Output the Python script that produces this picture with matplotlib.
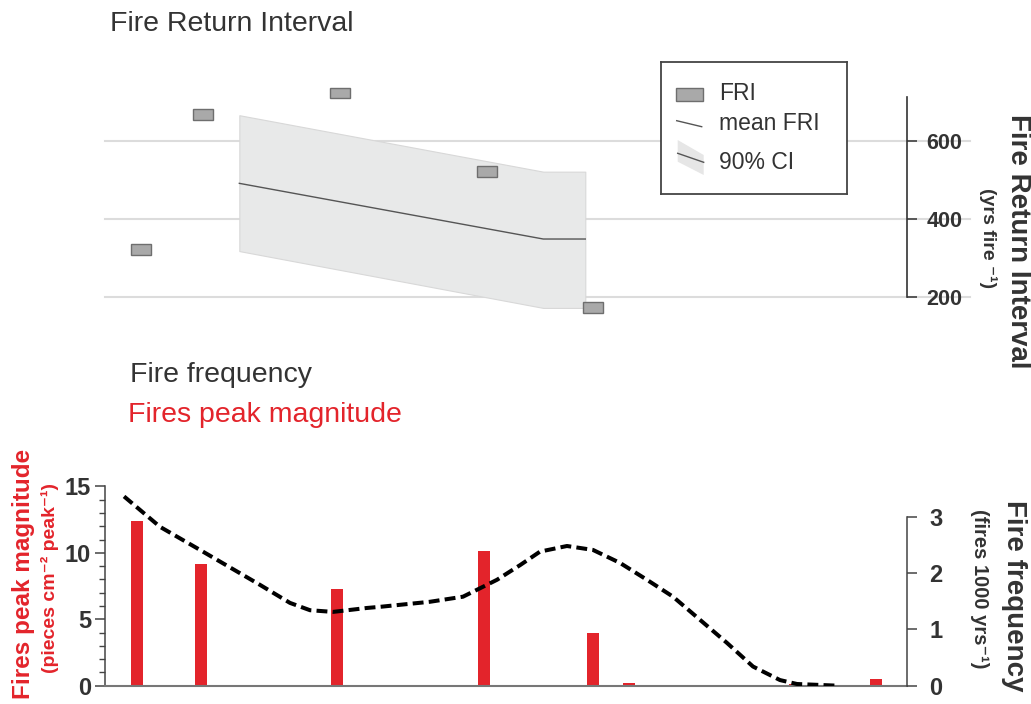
import matplotlib
matplotlib.use("Agg")
import matplotlib.pyplot as plt
from matplotlib.patches import Rectangle, Polygon

plt.rcParams['font.family'] = ['Liberation Sans', 'DejaVu Sans']

DARK = "#333333"
RED = "#e3242b"

# ---- data (x in years along a shared time axis) ----
fri_x = [356, 975, 2341, 3813, 4865]
fri_y = [323, 669, 724, 522, 174]

ci_x = [1340, 4372, 4791]
ci_upper = [667, 522, 522]
ci_lower = [318, 172, 172]
mean_fri = [492, 349, 349]

peak_x = [320, 960, 2315, 3780, 4870, 5225, 6880, 7690]
peak_mag = [12.4, 9.13, 7.3, 10.16, 3.95, 0.17, 0.1, 0.48]

freq_x = [190, 549, 948, 1546, 1845, 2045, 2274, 2613, 2743, 3242, 3571, 3741,
          3910, 4140, 4339, 4608, 4868, 5137, 5406, 5666, 5935, 6204, 6464,
          6733, 6903, 7312]
freq_y = [3.36, 2.82, 2.41, 1.79, 1.47, 1.34, 1.31, 1.38, 1.40, 1.49, 1.58, 1.73,
          1.88, 2.14, 2.38, 2.48, 2.41, 2.18, 1.88, 1.58, 1.17, 0.76, 0.34,
          0.10, 0.03, 0.0]

W, H = 1031, 704
fig = plt.figure(figsize=(W / 100, H / 100), dpi=100)

# ---- top panel: fire return interval ----
ax1 = fig.add_axes([105 / W, 1 - 316.5 / H, 802 / W, 237.5 / H])
ax1.set_xlim(0, 8000)
ax1.set_ylim(150, 760)
for v in [200, 400, 600]:
    ax1.axhline(v, xmin=0, xmax=1.078, color="#dcdcdc", lw=1.5, zorder=0, clip_on=False)
ax1.fill_between(ci_x, ci_lower, ci_upper, color="#e8e9e9", edgecolor="#d8d8d8", lw=0.8, zorder=1)
ax1.plot(ci_x, mean_fri, color="#555555", lw=1.0, zorder=2)
ax1.bar(fri_x, 28, bottom=[v - 14 for v in fri_y], width=200,
        color="#a9a9a9", edgecolor="#6e6e6e", lw=1.0, zorder=3)
for s in ["top", "left", "bottom"]:
    ax1.spines[s].set_visible(False)
ax1.spines["right"].set_bounds(200, 714)
ax1.spines["right"].set_color(DARK)
ax1.spines["right"].set_linewidth(1.2)
ax1.set_xticks([])
ax1.yaxis.tick_right()
ax1.set_yticks([200, 400, 600])
ax1.tick_params(axis="y", length=7, width=1.1, color=DARK, pad=7, labelsize=15.5,
                labelcolor=DARK)
for t in ax1.get_yticklabels():
    t.set_fontweight("bold")
ax1.patch.set_alpha(0)

# legend drawn by hand
leg = fig.add_axes([660.7 / W, 1 - 194.3 / H, 186.6 / W, 132 / H])
leg.set_xlim(0, 186.6)
leg.set_ylim(132, 0)
leg.set_xticks([])
leg.set_yticks([])
for s in leg.spines.values():
    s.set_color("#444444")
    s.set_linewidth(1.3)
leg.add_patch(Rectangle((15.3, 25.4), 26.7, 13.3, facecolor="#a9a9a9", edgecolor="#6e6e6e", lw=1))
leg.plot([16, 41], [58.4, 64.4], color="#555555", lw=1)
leg.add_patch(Polygon([(17, 77.7), (43, 92.7), (43, 112.7), (17, 99.4)],
                      closed=True, facecolor="#e6e6e6", edgecolor="none"))
leg.plot([17, 43], [91, 100], color="#555555", lw=1)
leg.text(58.7, 31, "FRI", fontsize=16.5, color=DARK, va="center")
leg.text(58.7, 61.4, "mean FRI", fontsize=16.5, color=DARK, va="center")
leg.text(58.7, 100.2, "90% CI", fontsize=16.5, color=DARK, va="center")

# ---- bottom panel: fire frequency & peak magnitude ----
ax2 = fig.add_axes([105 / W, 1 - 685.7 / H, 802 / W, 206 / H])
ax2.set_xlim(0, 8000)
ax2.set_ylim(0, 15.5)
ax2.bar(peak_x, peak_mag, width=120, color=RED, zorder=2)
ax2.set_xticks([])
ax2.set_yticks([0, 5, 10, 15])
ax2.set_yticks(range(0, 16), minor=True)
ax2.tick_params(axis="y", which="major", length=7, width=1.1, color="#444444", pad=3,
                labelsize=17, labelcolor=DARK)
ax2.tick_params(axis="y", which="minor", length=4, width=1.0, color="#444444")
for t in ax2.get_yticklabels():
    t.set_fontweight("bold")
ax2.spines["top"].set_visible(False)
ax2.spines["right"].set_visible(False)
ax2.spines["left"].set_bounds(0, 15)
ax2.spines["left"].set_color("#444444")
ax2.spines["left"].set_linewidth(1.1)
ax2.spines["bottom"].set_color("#777777")
ax2.spines["bottom"].set_linewidth(1.5)

ax3 = ax2.twinx()
ax3.set_ylim(0, 15.5 * 13.29 / 56.33)
ax3.plot(freq_x, freq_y, color="black", lw=2.9, linestyle=(0, (2.7, 1.3)), zorder=3)
for s in ["top", "left", "bottom"]:
    ax3.spines[s].set_visible(False)
ax3.spines["right"].set_bounds(0, 3)
ax3.spines["right"].set_color("#444444")
ax3.spines["right"].set_linewidth(1.1)
ax3.set_yticks([0, 1, 2, 3])
ax3.tick_params(axis="y", length=7, width=1.1, color="#444444", pad=9, labelsize=17,
                labelcolor=DARK)
for t in ax3.get_yticklabels():
    t.set_fontweight("bold")

# ---- titles and axis labels ----
fig.text(110 / W, 1 - 31 / H, "Fire Return Interval", fontsize=20.5, color=DARK, va="baseline")
fig.text(130 / W, 1 - 382 / H, "Fire frequency", fontsize=20.5, color=DARK, va="baseline")
fig.text(128 / W, 1 - 421.7 / H, "Fires peak magnitude", fontsize=20.5, color=RED, va="baseline")

fig.text(1018 / W, 1 - 241 / H, "Fire Return Interval", fontsize=20, fontweight="bold",
         color=DARK, rotation=-90, ha="center", va="center")
fig.text(988 / W, 1 - 238 / H, "(yrs fire \u207b\u00b9)", fontsize=14, fontweight="bold",
         color=DARK, rotation=-90, ha="center", va="center")
fig.text(1014 / W, 1 - 596 / H, "Fire frequency", fontsize=20, fontweight="bold",
         color=DARK, rotation=-90, ha="center", va="center")
fig.text(980 / W, 1 - 589 / H, "(fires 1000 yrs\u207b\u00b9)", fontsize=14.5, fontweight="bold",
         color=DARK, rotation=-90, ha="center", va="center")
fig.text(24 / W, 1 - 574 / H, "Fires peak magnitude", fontsize=17.5, fontweight="bold",
         color=RED, rotation=90, ha="center", va="center")
fig.text(50 / W, 1 - 578 / H, "(pieces cm\u207b\u00b2 peak\u207b\u00b9)", fontsize=14,
         fontweight="bold", color=RED, rotation=90, ha="center", va="center")

fig.savefig("out.png", dpi=100, facecolor="white")
